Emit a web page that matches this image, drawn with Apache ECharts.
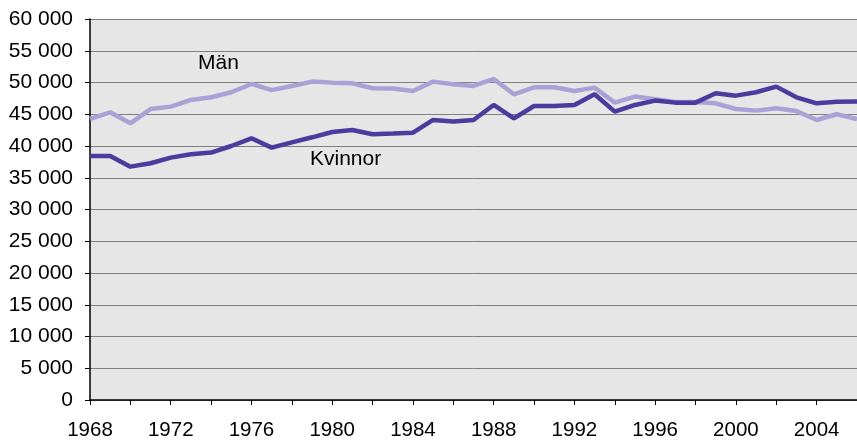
<!DOCTYPE html>
<html><head><meta charset="utf-8">
<script src="https://cdn.jsdelivr.net/npm/echarts@6/dist/echarts.min.js"></script>
<style>html,body{margin:0;padding:0;background:#fff}#c{width:857px;height:441px}</style>
</head><body><div id="c"></div>
<script>
const years = [];
for (let y = 1968; y <= 2006; y++) years.push(String(y));
const man = [44260,45300,43570,45830,46200,47250,47670,48460,49770,48800,49450,50140,49980,49870,49090,49040,48670,50140,49720,49450,50560,48140,49240,49240,48670,49190,46830,47780,47350,46940,46940,46720,45830,45570,45930,45520,44100,45000,44260];
const kvinnor = [38430,38430,36750,37280,38170,38690,38960,40000,41210,39740,40580,41370,42210,42520,41840,41950,42100,44100,43840,44100,46460,44360,46300,46300,46460,48140,45410,46460,47150,46830,46830,48300,47930,48460,49350,47670,46720,46980,47000];
const seriesNames = ['Män','Kvinnor'];
const chart = echarts.init(document.getElementById('c'), null, {renderer:'canvas'});
const font = 'Liberation Sans, Arial, sans-serif';
chart.setOption({
  animation:false,
  backgroundColor:'#fff',
  grid:{left:90,right:0,top:19,bottom:41,show:true,backgroundColor:'#e6e6e6',borderWidth:0},
  xAxis:{type:'category',data:years,boundaryGap:false,
    axisLine:{lineStyle:{color:'#000',width:1.5}},
    axisTick:{interval:1,length:5,lineStyle:{color:'#000'}},
    axisLabel:{interval:3,color:'#000',fontSize:20.5,fontFamily:font,margin:20},
    splitLine:{show:false}},
  yAxis:{type:'value',min:0,max:60000,interval:5000,
    axisLine:{show:true,lineStyle:{color:'#000',width:1.5}},
    axisTick:{show:true,length:5,lineStyle:{color:'#000'}},
    axisLabel:{color:'#000',fontSize:21,fontFamily:font,margin:17,
      formatter:v=>String(v).replace(/\B(?=(\d{3})+(?!\d))/g,' ')},
    splitLine:{lineStyle:{color:'#7f7f7f',width:1}}},
  series:[
    {name:seriesNames[0],type:'line',data:man,symbol:'none',lineStyle:{color:'#aaa2d6',width:4.5},itemStyle:{color:'#aaa2d6'}},
    {name:seriesNames[1],type:'line',data:kvinnor,symbol:'none',lineStyle:{color:'#4a3c9e',width:4.5},itemStyle:{color:'#4a3c9e'}}
  ],
  graphic:[
    {type:'text',left:198,top:53,style:{text:seriesNames[0],fontSize:21,fontFamily:font,fill:'#000'}},
    {type:'text',left:310,top:149,style:{text:seriesNames[1],fontSize:21,fontFamily:font,fill:'#000'}}
  ]
});
</script></body></html>
